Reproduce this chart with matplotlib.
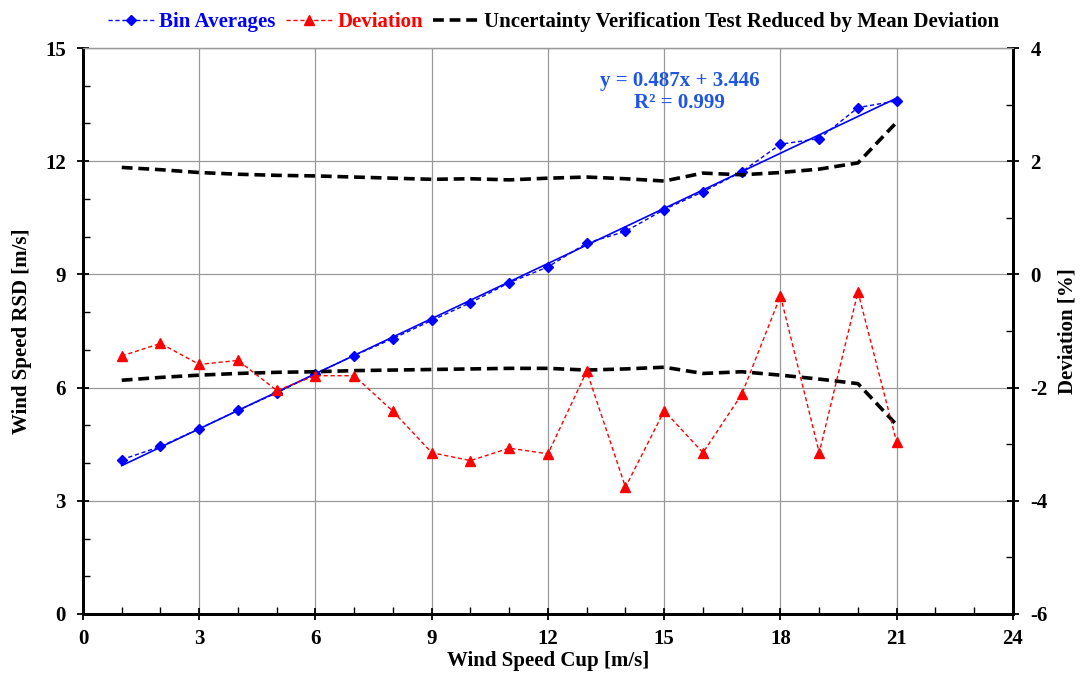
import matplotlib.pyplot as plt
import numpy as np
from matplotlib.ticker import MultipleLocator

plt.rcParams["font.family"] = ["Liberation Serif", "DejaVu Serif"]
plt.rcParams["font.weight"] = "bold"
plt.rcParams["axes.unicode_minus"] = False

# =========================
# Data
# =========================
wind_speed = [1, 2, 3, 4, 5, 6, 7, 8, 9, 10, 11, 12, 13, 14, 15, 16, 17, 18, 19, 20, 21]

bin_avg_rsd = [4.09, 4.44, 4.91, 5.40, 5.86, 6.37, 6.85, 7.30, 7.78, 8.25, 8.78,
               9.20, 9.83, 10.14, 10.72, 11.19, 11.72, 12.45, 12.60, 13.42, 13.60]

deviation = [-1.44, -1.22, -1.59, -1.52, -2.05, -1.79, -1.79, -2.42, -3.15, -3.29, -3.07,
             -3.17, -1.71, -3.76, -2.41, -3.15, -2.12, -0.38, -3.15, -0.31, -2.97]

uvt_upper = [1.89, 1.85, 1.80, 1.77, 1.75, 1.74, 1.72, 1.70, 1.68, 1.69, 1.67,
             1.70, 1.72, 1.69, 1.65, 1.79, 1.76, 1.80, 1.86, 1.97, 2.69]
uvt_lower = [-1.87, -1.82, -1.78, -1.75, -1.73, -1.72, -1.70, -1.69, -1.68, -1.67, -1.66,
             -1.66, -1.69, -1.67, -1.64, -1.75, -1.72, -1.78, -1.85, -1.93, -2.66]

# linear trendline of the bin averages
fit_slope = 0.487
fit_intercept = 3.446
fit_r2 = 0.999

blue = "#0000FF"
red = "#FF0000"

# =========================
# Figure
# =========================
fig = plt.figure(figsize=(10.82, 6.81), dpi=100)
ax = fig.add_axes([0.0767, 0.0984, 0.8595, 0.8311])
ax2 = ax.twinx()

ax.set_xlim(0, 24)
ax.set_ylim(0, 15)
ax2.set_ylim(-6, 4)

ax.xaxis.set_major_locator(MultipleLocator(3))
ax.xaxis.set_minor_locator(MultipleLocator(1))
ax.yaxis.set_major_locator(MultipleLocator(3))
ax.yaxis.set_minor_locator(MultipleLocator(1))
ax2.yaxis.set_major_locator(MultipleLocator(2))
ax2.yaxis.set_minor_locator(MultipleLocator(1))

ax.grid(True, which="major", color="#999999", linewidth=0.9)
ax.set_axisbelow(True)

for a in (ax, ax2):
    for side in ("left", "right", "bottom"):
        a.spines[side].set_linewidth(2)
        a.spines[side].set_color("black")
    a.spines["top"].set_color("#999999")
    a.spines["top"].set_linewidth(0.9)
    a.tick_params(which="major", direction="inout", length=9, width=1.3, labelsize=15)
    a.tick_params(which="minor", direction="in", length=5, width=1.0)

ax.tick_params(axis="x", pad=6)
ax.tick_params(axis="y", pad=8)
ax2.tick_params(axis="y", pad=8)

# fitted line
x_fit = np.array([wind_speed[0], wind_speed[-1]])
ax.plot(x_fit, fit_slope * x_fit + fit_intercept, color=blue, linewidth=1.2, zorder=4)

# bin averages
ax.plot(wind_speed, bin_avg_rsd, color=blue, linestyle=(0, (3, 2)), linewidth=1.0,
        marker="D", markersize=5.5, zorder=5, label="Bin Averages")

# deviation and uncertainty bounds on the right axis
ax2.plot(wind_speed, deviation, color=red, linestyle=(0, (3, 2)), linewidth=1.0,
         marker="^", markersize=7, zorder=5, label="Deviation")
ax2.plot(wind_speed, uvt_upper, color="black", linestyle=(0, (3, 1.6)), linewidth=2.6,
         zorder=4, label="Uncertainty Verification Test Reduced by Mean Deviation")
ax2.plot(wind_speed, uvt_lower, color="black", linestyle=(0, (3, 1.6)), linewidth=2.6,
         zorder=4)

ax.text(15.4, 13.83, f"y = {fit_slope:.3f}x + {fit_intercept:.3f}\nR² = {fit_r2:.3f}",
        color="#1E55E6", fontsize=15, fontweight="bold", ha="center", va="center",
        multialignment="center", linespacing=1.1)

ax.set_xlabel("Wind Speed Cup [m/s]", fontsize=15, fontweight="bold", labelpad=2)
ax.set_ylabel("Wind Speed RSD [m/s]", fontsize=15, fontweight="bold", labelpad=9)
ax2.set_ylabel("Deviation [%]", fontsize=15, fontweight="bold", labelpad=7)

# =========================
# Legend
# =========================
handles = ax.get_legend_handles_labels()[0] + ax2.get_legend_handles_labels()[0]
labels = ax.get_legend_handles_labels()[1] + ax2.get_legend_handles_labels()[1]
leg = fig.legend(handles, labels, loc="upper center", bbox_to_anchor=(0.512, 1.01),
                 ncol=3, frameon=False, fontsize=15, handlelength=2.2,
                 handletextpad=0.25, columnspacing=0.5)
for text, col in zip(leg.get_texts(), [blue, red, "black"]):
    text.set_color(col)
    text.set_fontweight("bold")

fig.savefig("out.png", dpi=100)
